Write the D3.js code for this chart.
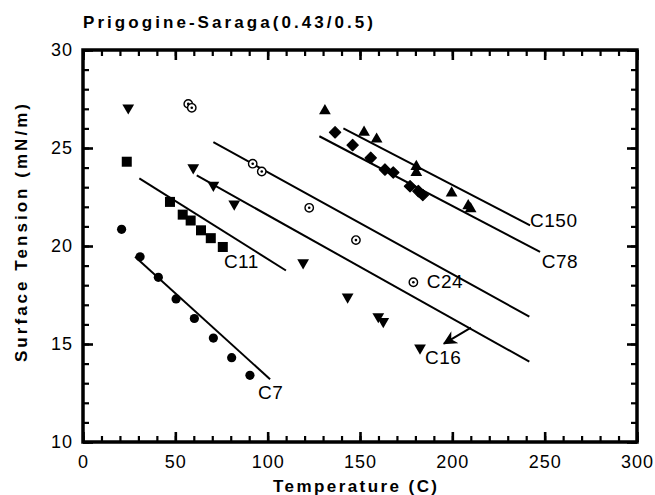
<!DOCTYPE html>
<html>
<head>
<meta charset="utf-8">
<script src="https://cdn.jsdelivr.net/npm/d3@7"></script>
<style>
  body { margin: 0; background: #fff; }
  text { font-family: "Liberation Sans", Arial, sans-serif; fill: #000; }
</style>
</head>
<body>
<div id="vis"></div>
<script>
// values: [temperature (C), surface tension (mN/m)]
const c7 = [[20.9, 20.85], [30.9, 19.45], [40.8, 18.4], [50.4, 17.3], [60.3, 16.3], [70.6, 15.3], [80.5, 14.3], [90.4, 13.4]];
const c11 = [[23.7, 24.3], [47.1, 22.25], [54.0, 21.6], [58.3, 21.3], [63.9, 20.8], [69.2, 20.4], [75.7, 19.95]];
const c16 = [[24.5, 27.05], [59.7, 24.0], [70.6, 23.1], [81.9, 22.15], [119.2, 19.15], [143.3, 17.4], [159.9, 16.4], [162.6, 16.15], [182.5, 14.8]];
const c24 = [[57.0, 27.25], [58.9, 27.05], [91.9, 24.2], [96.8, 23.8], [122.5, 21.95], [147.8, 20.3], [178.9, 18.15]];
const c78 = [[136.5, 25.8], [146.0, 25.15], [155.8, 24.5], [163.5, 23.9], [168.0, 23.75], [177.1, 23.05], [181.6, 22.8], [184.0, 22.6]];
const c150 = [[131.0, 26.95], [152.2, 25.85], [159.0, 25.5], [180.5, 24.1], [180.5, 23.8], [199.6, 22.75], [208.6, 22.1], [209.9, 21.95]];

// model lines (end points)
const c7Line = [[28.2, 19.45], [101.3, 13.2]];
const c11Line = [[30.5, 23.45], [109.9, 18.75]];
const c16Line = [[61.6, 23.6], [241.7, 14.1]];
const c24Line = [[70.6, 25.3], [241.7, 16.4]];
const c78Line = [[128.0, 25.6], [247.5, 19.7]];
const c150Line = [[141.0, 26.0], [242.1, 21.05]];

const curveLabels = [
  { text: "C7", t: 94.8, st: 12.2 },
  { text: "C11", t: 76.3, st: 18.9 },
  { text: "C16", t: 185.2, st: 14.0 },
  { text: "C24", t: 186.1, st: 17.85 },
  { text: "C78", t: 248.4, st: 18.9 },
  { text: "C150", t: 242.1, st: 20.95 }
];
const arrowC16 = [[210.1, 15.83], [195.5, 15.02]];

const xTicks = [0, 50, 100, 150, 200, 250, 300];
const yTicks = [10, 15, 20, 25, 30];

const width = 655, height = 495;
const svg = d3.select("#vis").append("svg")
  .attr("width", width)
  .attr("height", height);

const x = d3.scaleLinear().domain([0, 300]).range([83, 637]);
const y = d3.scaleLinear().domain([10, 30]).range([442, 50]);

// axes, ticks inward on all four sides
const minorX = d3.range(0, 301, 10), minorY = d3.range(10, 31, 1);
function drawAxis(axisFn, scale, major, minor, tx, ty, pad) {
  svg.append("g").attr("transform", `translate(${tx},${ty})`)
    .call(axisFn(scale).tickValues(minor).tickSize(-6).tickFormat(""))
    .call(g => g.select(".domain").remove())
    .call(g => g.selectAll("line").attr("stroke-width", 2.2));
  const g = svg.append("g").attr("transform", `translate(${tx},${ty})`)
    .call(axisFn(scale).tickValues(major).tickSize(-10).tickPadding(pad || 0)
      .tickFormat(pad ? d3.format("d") : ""))
    .call(g => g.select(".domain").remove())
    .call(g => g.selectAll("line").attr("stroke-width", 2.6));
  g.selectAll("text").attr("font-size", 18).attr("letter-spacing", 1)
    .attr("font-family", "Liberation Sans, Arial, sans-serif");
  return g;
}
drawAxis(d3.axisBottom, x, xTicks, minorX, 0, 442, 13);
drawAxis(d3.axisTop, x, xTicks, minorX, 0, 50, 0);
drawAxis(d3.axisLeft, y, yTicks, minorY, 83, 0, 10);
drawAxis(d3.axisRight, y, yTicks, minorY, 637, 0, 0);

svg.append("rect")
  .attr("x", x(0)).attr("y", y(30))
  .attr("width", x(300) - x(0)).attr("height", y(10) - y(30))
  .attr("fill", "none").attr("stroke", "#000").attr("stroke-width", 3.5);

// model lines
const line = d3.line().x(d => x(d[0])).y(d => y(d[1]));
svg.append("g").selectAll("path")
  .data([c7Line, c11Line, c16Line, c24Line, c78Line, c150Line])
  .join("path")
  .attr("d", line)
  .attr("fill", "none").attr("stroke", "#000").attr("stroke-width", 2);

// markers
svg.append("g").selectAll("circle").data(c7).join("circle")
  .attr("cx", d => x(d[0])).attr("cy", d => y(d[1])).attr("r", 4.6).attr("fill", "#000");

svg.append("g").selectAll("rect").data(c11).join("rect")
  .attr("x", d => x(d[0]) - 5).attr("y", d => y(d[1]) - 5)
  .attr("width", 10).attr("height", 10).attr("fill", "#000");

const tri = d3.symbol().type(d3.symbolTriangle).size(60);
svg.append("g").selectAll("path").data(c16).join("path")
  .attr("d", tri)
  .attr("transform", d => `translate(${x(d[0])},${y(d[1])}) rotate(180)`)
  .attr("fill", "#000");

const g24 = svg.append("g").selectAll("g").data(c24).join("g")
  .attr("transform", d => `translate(${x(d[0])},${y(d[1])})`);
g24.append("circle").attr("r", 4.2).attr("fill", "#fff").attr("stroke", "#000").attr("stroke-width", 1.4);
g24.append("circle").attr("r", 1.3).attr("fill", "#000");

const diamond = d3.symbol().type(d3.symbolSquare).size(64);
svg.append("g").selectAll("path").data(c78).join("path")
  .attr("d", diamond)
  .attr("transform", d => `translate(${x(d[0])},${y(d[1])}) rotate(45)`)
  .attr("fill", "#000").attr("stroke", "#000").attr("stroke-width", 1.2).attr("stroke-linejoin", "round");

svg.append("g").selectAll("path").data(c150).join("path")
  .attr("d", tri)
  .attr("transform", d => `translate(${x(d[0])},${y(d[1]) + 1})`)
  .attr("fill", "#000");

// curve labels
svg.append("g").selectAll("text").data(curveLabels).join("text")
  .attr("x", d => x(d.t)).attr("y", d => y(d.st))
  .attr("font-size", 19).attr("letter-spacing", 0.5)
  .text(d => d.text);

// arrow to C16
svg.append("defs").append("marker")
  .attr("id", "head").attr("viewBox", "0 0 10 10")
  .attr("refX", 9).attr("refY", 5)
  .attr("markerWidth", 7).attr("markerHeight", 7)
  .attr("orient", "auto")
  .append("path").attr("d", "M0,0 L10,5 L0,10 L3,5 Z").attr("fill", "#000");
svg.append("path")
  .attr("d", line(arrowC16))
  .attr("stroke", "#000").attr("stroke-width", 2).attr("fill", "none")
  .attr("marker-end", "url(#head)");

// titles
svg.append("text")
  .attr("x", 83).attr("y", 28)
  .attr("font-size", 17).attr("font-weight", "bold")
  .attr("textLength", 290).attr("lengthAdjust", "spacing")
  .text("Prigogine-Saraga(0.43/0.5)");

svg.append("text")
  .attr("transform", "translate(27,233) rotate(-90)")
  .attr("text-anchor", "middle")
  .attr("font-size", 17).attr("font-weight", "bold")
  .attr("textLength", 258).attr("lengthAdjust", "spacing")
  .text("Surface  Tension  (mN/m)");

svg.append("text")
  .attr("x", 355).attr("y", 492)
  .attr("text-anchor", "middle")
  .attr("font-size", 17).attr("font-weight", "bold")
  .attr("textLength", 164).attr("lengthAdjust", "spacing")
  .text("Temperature  (C)");
</script>
</body>
</html>
